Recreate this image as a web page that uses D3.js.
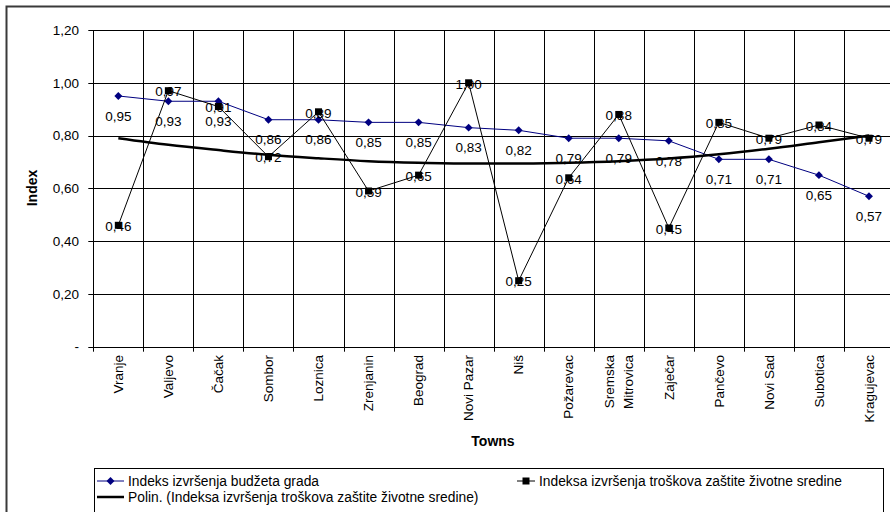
<!DOCTYPE html>
<html>
<head>
<meta charset="utf-8">
<script src="https://cdn.jsdelivr.net/npm/d3@7"></script>
<style>
body { margin: 0; background: #fff; }
text { font-family: "Liberation Sans", Arial, sans-serif; fill: #000; }
</style>
</head>
<body>
<div id="chart"></div>
<script>
// data
const towns = ["Vranje", "Valjevo", "Čačak", "Sombor", "Loznica", "Zrenjanin", "Beograd", "Novi Pazar",
    "Niš", "Požarevac", "Sremska\nMitrovica", "Zaječar", "Pančevo", "Novi Sad", "Subotica", "Kragujevac"];
const budget = [0.95, 0.93, 0.93, 0.86, 0.86, 0.85, 0.85, 0.83, 0.82, 0.79, 0.79, 0.78, 0.71, 0.71, 0.65, 0.57];
const envCost = [0.46, 0.97, 0.91, 0.72, 0.89, 0.59, 0.65, 1.00, 0.25, 0.64, 0.88, 0.45, 0.85, 0.79, 0.84, 0.79];
const trend = [0.79, 0.765, 0.745, 0.727, 0.714, 0.703, 0.697, 0.694, 0.694, 0.697, 0.703, 0.713, 0.729, 0.75, 0.775, 0.80];
const yTicks = [0, 0.2, 0.4, 0.6, 0.8, 1.0, 1.2];
const legendNames = ["Indeks izvršenja budžeta grada",
    "Indeksa izvršenja troškova zaštite životne sredine",
    "Polin. (Indeksa izvršenja troškova zaštite životne sredine)"];

const W = 890, H = 512;
const plot = {left: 93.3, right: 894, top: 30, bottom: 346.7};
const fmt = (v) => v === 0 ? "-" : d3.format(".2f")(v).replace(".", ",");

const svg = d3.select("#chart").append("svg")
    .attr("width", W).attr("height", H);

// chart area border (cut off at right / bottom)
svg.append("rect")
    .attr("x", 6.5).attr("y", 6.5)
    .attr("width", 1000).attr("height", 1000)
    .attr("fill", "none").attr("stroke", "#3a3a3a").attr("stroke-width", 2);

const x = d3.scaleBand().domain(towns).range([plot.left, plot.right]);
const y = d3.scaleLinear().domain([0, 1.2]).range([plot.bottom, plot.top]);
const cx = (d, i) => x(towns[i]) + x.bandwidth() / 2;

// grid
const grid = svg.append("g").attr("stroke", "#000").attr("stroke-width", 1);
grid.selectAll(".hg").data(yTicks).join("line")
    .attr("x1", plot.left - 5).attr("x2", plot.right)
    .attr("y1", (d) => Math.round(y(d)) + 0.5).attr("y2", (d) => Math.round(y(d)) + 0.5);
grid.selectAll(".vg").data(towns.concat(["_end"])).join("line")
    .attr("x1", (d, i) => Math.round(plot.left + i * x.bandwidth()) + 0.5)
    .attr("x2", (d, i) => Math.round(plot.left + i * x.bandwidth()) + 0.5)
    .attr("y1", plot.top).attr("y2", plot.bottom + 5);

// y tick labels
svg.append("g").selectAll("text").data(yTicks).join("text")
    .attr("x", 79).attr("y", (d) => y(d))
    .attr("dy", "0.35em").attr("text-anchor", "end")
    .attr("font-size", "13.5px")
    .text(fmt);

// x tick labels (rotated)
const xl = svg.append("g").selectAll("g").data(towns).join("g")
    .attr("transform", (d) => `translate(${x(d) + x.bandwidth() / 2},355) rotate(-90)`);
xl.each(function(d) {
    const lines = d.split("\n");
    const g = d3.select(this);
    lines.forEach((ln, k) => {
        g.append("text")
            .attr("x", 0)
            .attr("y", (k - (lines.length - 1) / 2) * 18.5)
            .attr("dy", "0.35em")
            .attr("text-anchor", "end")
            .attr("font-size", "13.5px")
            .text(ln);
    });
});

// axis titles
svg.append("text")
    .attr("transform", "translate(32,188) rotate(-90)")
    .attr("text-anchor", "middle").attr("dy", "0.35em")
    .attr("font-size", "14px").attr("font-weight", "bold")
    .text("Index");
svg.append("text")
    .attr("x", 493).attr("y", 441).attr("dy", "0.35em")
    .attr("text-anchor", "middle")
    .attr("font-size", "14px").attr("font-weight", "bold")
    .text("Towns");

const line = d3.line().x(cx).y((d) => y(d));

// budget series (navy, diamonds)
svg.append("path").datum(budget)
    .attr("d", line).attr("fill", "none")
    .attr("stroke", "#000080").attr("stroke-width", 1);
svg.append("g").selectAll("path").data(budget).join("path")
    .attr("d", d3.symbol(d3.symbolDiamond2, 40))
    .attr("transform", (d, i) => `translate(${cx(d, i)},${y(d)})`)
    .attr("fill", "#000080");

// environment cost series (black)
svg.append("path").datum(envCost)
    .attr("d", line).attr("fill", "none")
    .attr("stroke", "#000").attr("stroke-width", 1);

// polynomial trend
svg.append("path").datum(trend)
    .attr("d", line.curve(d3.curveMonotoneX)).attr("fill", "none")
    .attr("stroke", "#000").attr("stroke-width", 2.5);

// labels
svg.append("g").selectAll("text").data(budget).join("text")
    .attr("x", cx).attr("y", (d) => y(d) + 20)
    .attr("dy", "0.35em").attr("text-anchor", "middle")
    .attr("font-size", "13.5px")
    .text(fmt);
svg.append("g").selectAll("text").data(envCost).join("text")
    .attr("x", cx).attr("y", (d) => y(d) + 1)
    .attr("dy", "0.35em").attr("text-anchor", "middle")
    .attr("font-size", "13.5px")
    .text(fmt);

svg.append("g").selectAll("rect").data(envCost).join("rect")
    .attr("x", (d, i) => cx(d, i) - 3.5).attr("y", (d) => y(d) - 3.5)
    .attr("width", 7).attr("height", 7)
    .attr("fill", "#000");

// legend
const lg = svg.append("g");
lg.append("rect")
    .attr("x", 94.5).attr("y", 468.5).attr("width", 789).attr("height", 80)
    .attr("fill", "#fff").attr("stroke", "#000").attr("stroke-width", 1);
const entries = [
    {x: 97, y: 481, len: 27, color: "#000080", sym: "diamond", w: 1},
    {x: 517, y: 481, len: 18, color: "#000", sym: "square", w: 1},
    {x: 97, y: 497, len: 27, color: "#000", sym: null, w: 2.5}
];
entries.forEach((e, i) => {
    lg.append("line")
        .attr("x1", e.x).attr("x2", e.x + e.len).attr("y1", e.y).attr("y2", e.y)
        .attr("stroke", e.color).attr("stroke-width", e.w);
    if (e.sym === "diamond") {
        lg.append("path").attr("d", d3.symbol(d3.symbolDiamond2, 40))
            .attr("transform", `translate(${e.x + e.len / 2},${e.y})`).attr("fill", e.color);
    } else if (e.sym === "square") {
        lg.append("rect").attr("x", e.x + e.len / 2 - 3.5).attr("y", e.y - 3.5)
            .attr("width", 7).attr("height", 7).attr("fill", e.color);
    }
    lg.append("text")
        .attr("x", e.x + e.len + 4).attr("y", e.y).attr("dy", "0.35em")
        .attr("font-size", "13.8px")
        .text(legendNames[i]);
});
</script>
</body>
</html>
